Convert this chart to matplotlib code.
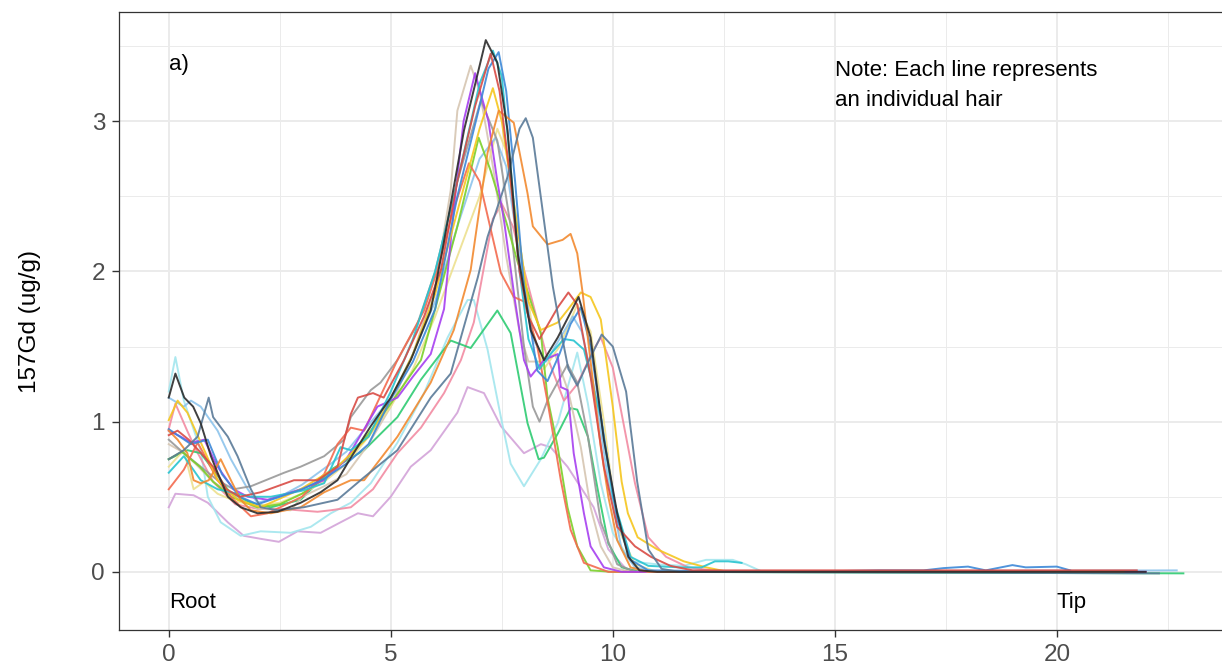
import matplotlib

matplotlib.use("Agg", force=True)

import matplotlib.pyplot as plt

# Gd-157 concentration along individual hairs (distance from root, ug/g).
# Each list holds (distance, concentration) points.
hair_lavender = [(0, 0.43), (0.15, 0.52), (0.56, 0.51), (0.88, 0.46), (1.33, 0.33), (1.69, 0.24),
                 (2.07, 0.22), (2.48, 0.20), (2.9, 0.27), (3.42, 0.26), (3.87, 0.33), (4.26, 0.39),
                 (4.6, 0.37), (5.0, 0.50), (5.45, 0.70), (5.9, 0.81), (6.5, 1.06), (6.73, 1.23),
                 (7.1, 1.19), (7.48, 0.97), (8.0, 0.79), (8.38, 0.85), (8.6, 0.83), (8.98, 0.70),
                 (9.57, 0.43), (9.9, 0.15), (10.3, 0.02), (10.8, 0.0), (19.0, 0.0)]
hair_lightcyan = [(0, 1.20), (0.15, 1.43), (0.34, 1.14), (0.72, 0.81), (0.88, 0.50), (1.17, 0.33),
                  (1.62, 0.24), (2.07, 0.27), (2.75, 0.26), (3.2, 0.30), (3.65, 0.39), (4.1, 0.46),
                  (4.55, 0.59), (5.15, 0.86), (5.75, 1.19), (6.28, 1.56), (6.73, 1.81), (6.87, 1.81),
                  (7.18, 1.48), (7.48, 1.03), (7.7, 0.72), (8.0, 0.57), (8.38, 0.75), (8.76, 0.99),
                  (9.2, 1.46), (9.44, 1.12), (9.73, 0.59), (10.0, 0.26), (10.4, 0.07), (11.0, 0.05),
                  (11.6, 0.04), (12.1, 0.08), (12.7, 0.08), (13.0, 0.05), (13.3, 0.01)]
hair_pink = [(0, 0.95), (0.15, 1.12), (0.4, 0.95), (0.6, 0.82), (1.0, 0.60), (1.5, 0.45), (2.0, 0.42),
             (2.5, 0.42), (3.35, 0.40), (3.65, 0.41), (4.1, 0.43), (4.6, 0.55), (5.15, 0.79),
             (5.68, 0.96), (6.2, 1.19), (6.58, 1.41), (6.87, 1.66), (7.1, 2.03), (7.3, 2.35),
             (7.5, 2.45), (7.75, 2.30), (8.1, 1.90), (8.5, 1.45), (8.9, 1.14), (9.2, 1.25),
             (9.57, 1.48), (9.73, 1.56), (10.0, 1.36), (10.5, 0.59), (10.8, 0.23), (11.2, 0.10),
             (11.7, 0.03), (12.5, 0.0), (21.0, 0.0)]
hair_green = [(0, 0.75), (0.42, 0.81), (0.72, 0.79), (0.95, 0.70), (1.4, 0.52), (1.85, 0.46),
              (2.3, 0.43), (2.97, 0.48), (3.65, 0.68), (4.4, 0.81), (5.15, 1.03), (5.68, 1.28),
              (6.35, 1.54), (6.8, 1.49), (7.4, 1.74), (7.7, 1.59), (8.08, 0.99), (8.33, 0.75),
              (8.45, 0.76), (8.76, 0.92), (9.05, 1.09), (9.2, 1.08), (9.44, 0.90), (9.66, 0.55),
              (9.9, 0.19), (10.2, 0.03), (10.6, 0.0), (22.85, -0.01)]
hair_tan = [(0, 0.85), (0.3, 0.80), (0.6, 0.72), (1.0, 0.60), (1.5, 0.50), (2.0, 0.42), (2.75, 0.41),
            (3.0, 0.50), (3.5, 0.57), (4.0, 0.65), (4.5, 0.85), (5.0, 1.10), (5.5, 1.45),
            (6.0, 1.90), (6.35, 2.54), (6.5, 3.07), (6.8, 3.37), (7.0, 3.20), (7.3, 2.70),
            (7.6, 2.10), (7.9, 1.60), (8.1, 1.40), (8.4, 1.40), (8.7, 1.45), (9.0, 1.20),
            (9.28, 0.83), (9.5, 0.43), (9.73, 0.17), (10.0, 0.03), (10.4, 0.0), (19.5, 0.0)]
hair_lightyellow = [(0, 0.70), (0.34, 0.81), (0.56, 0.55), (0.8, 0.60), (1.1, 0.52), (1.5, 0.47),
                    (2.0, 0.44), (2.5, 0.46), (3.0, 0.52), (3.5, 0.60), (4.0, 0.72), (4.5, 0.90),
                    (5.0, 1.10), (5.5, 1.35), (6.0, 1.70), (6.5, 2.10), (7.0, 2.50), (7.4, 2.95),
                    (7.6, 2.80), (7.9, 2.20), (8.2, 1.60), (8.45, 1.35), (8.8, 1.50), (9.2, 1.78),
                    (9.5, 1.60), (9.8, 1.00), (10.1, 0.30), (10.5, 0.05), (11.0, 0.0), (21.0, 0.0)]
hair_lightblue = [(0, 1.16), (0.34, 1.10), (0.5, 1.14), (0.72, 1.10), (1.1, 0.94), (1.4, 0.75),
                  (1.78, 0.55), (2.0, 0.46), (2.5, 0.50), (3.0, 0.58), (3.65, 0.72), (4.0, 0.80),
                  (4.5, 0.98), (5.0, 1.15), (5.5, 1.45), (6.0, 1.80), (6.5, 2.30), (7.0, 2.75),
                  (7.36, 2.89), (7.6, 2.70), (7.9, 2.10), (8.2, 1.55), (8.5, 1.40), (8.8, 1.55),
                  (9.1, 1.70), (9.3, 1.60), (9.6, 1.20), (9.9, 0.60), (10.2, 0.15), (10.5, 0.03),
                  (11.0, 0.0), (22.7, 0.01)]
hair_gray = [(0, 0.88), (0.34, 0.79), (0.72, 0.70), (1.1, 0.61), (1.46, 0.55), (1.85, 0.57),
             (2.6, 0.66), (2.97, 0.70), (3.5, 0.77), (3.95, 0.88), (4.1, 1.03), (4.55, 1.21),
             (4.77, 1.26), (5.15, 1.41), (5.6, 1.65), (6.0, 2.00), (6.5, 2.60), (7.03, 3.14),
             (7.4, 2.87), (7.7, 2.30), (8.0, 1.50), (8.2, 1.10), (8.35, 1.00), (8.53, 1.14),
             (8.98, 1.38), (9.2, 1.26), (9.44, 0.90), (9.73, 0.33), (10.1, 0.05), (10.5, 0.0),
             (20.5, 0.0)]
hair_lime = [(0, 0.75), (0.3, 0.80), (0.7, 0.70), (1.0, 0.60), (1.4, 0.50), (2.0, 0.43),
             (2.5, 0.45), (3.0, 0.52), (3.5, 0.62), (4.0, 0.75), (4.5, 0.92), (5.0, 1.12),
             (5.68, 1.41), (6.0, 1.75), (6.5, 2.30), (6.98, 2.89), (7.25, 2.67), (7.63, 2.30),
             (7.86, 2.06), (8.1, 1.85), (8.38, 1.59), (8.53, 1.16), (8.76, 0.83), (8.98, 0.43),
             (9.2, 0.17), (9.5, 0.01), (10.0, 0.0), (21.0, 0.0)]
hair_salmon = [(0, 0.55), (0.34, 0.68), (0.65, 0.86), (0.8, 0.78), (1.1, 0.61), (1.46, 0.48),
               (1.85, 0.37), (2.23, 0.39), (3.0, 0.50), (3.5, 0.65), (3.8, 0.85), (4.1, 0.96),
               (4.4, 0.94), (5.15, 1.41), (5.75, 1.74), (6.05, 2.01), (6.4, 2.40), (6.76, 2.72),
               (7.0, 2.60), (7.48, 1.99), (7.77, 1.83), (8.0, 1.80), (8.3, 1.50), (8.55, 1.10),
               (8.83, 0.61), (9.05, 0.28), (9.35, 0.06), (9.9, 0.0), (22.0, 0.0)]
hair_purple = [(0, 0.94), (0.27, 0.90), (0.5, 0.86), (0.8, 0.88), (1.1, 0.70), (1.46, 0.55),
               (1.78, 0.50), (2.23, 0.48), (2.97, 0.55), (3.5, 0.61), (4.0, 0.75), (4.7, 1.10),
               (5.15, 1.16), (5.5, 1.30), (5.9, 1.45), (6.2, 1.75), (6.45, 2.50), (6.64, 3.00),
               (6.9, 3.32), (7.2, 3.00), (7.4, 2.60), (7.55, 2.34), (7.8, 1.80), (8.0, 1.41),
               (8.15, 1.30), (8.45, 1.41), (8.76, 1.45), (8.83, 1.23), (8.98, 1.21), (9.12, 0.79),
               (9.35, 0.39), (9.5, 0.17), (9.8, 0.03), (10.2, 0.0), (22.0, 0.0)]
hair_yellow = [(0, 1.01), (0.2, 1.14), (0.42, 1.06), (0.8, 0.81), (1.1, 0.61), (1.55, 0.48),
               (2.07, 0.43), (2.97, 0.55), (3.8, 0.70), (4.5, 0.90), (5.0, 1.15), (5.5, 1.45),
               (6.0, 1.85), (6.5, 2.40), (7.0, 2.95), (7.3, 3.22), (7.5, 3.00), (7.7, 2.60),
               (7.9, 2.20), (8.1, 1.80), (8.38, 1.61), (8.76, 1.66), (9.0, 1.75), (9.28, 1.86),
               (9.5, 1.83), (9.73, 1.68), (10.0, 1.10), (10.2, 0.60), (10.34, 0.39), (10.56, 0.23),
               (11.0, 0.15), (11.6, 0.07), (12.1, 0.03), (12.6, 0.0), (21.5, 0.0)]
hair_cyan = [(0, 0.66), (0.34, 0.77), (0.72, 0.61), (1.1, 0.55), (1.85, 0.50), (2.3, 0.50),
             (3.0, 0.54), (3.5, 0.59), (3.87, 0.83), (4.1, 0.81), (4.5, 0.90), (5.0, 1.20),
             (5.5, 1.55), (6.0, 2.00), (6.5, 2.60), (7.0, 3.25), (7.3, 3.47), (7.5, 3.30),
             (7.7, 2.70), (7.9, 2.00), (8.1, 1.55), (8.35, 1.35), (8.6, 1.45), (8.9, 1.55),
             (9.12, 1.54), (9.35, 1.48), (9.73, 1.03), (10.0, 0.50), (10.4, 0.10), (10.8, 0.04),
             (11.5, 0.03), (12.0, 0.03), (12.3, 0.07), (12.6, 0.07), (12.9, 0.06)]
hair_blue = [(0, 0.95), (0.5, 0.85), (0.88, 0.88), (1.2, 0.65), (1.6, 0.50), (2.0, 0.45),
             (2.5, 0.50), (3.0, 0.55), (3.5, 0.62), (4.0, 0.72), (4.5, 0.85), (5.0, 1.15),
             (5.5, 1.40), (6.0, 1.75), (6.5, 2.50), (7.0, 3.10), (7.2, 3.35), (7.43, 3.46),
             (7.6, 3.20), (7.8, 2.60), (8.0, 1.90), (8.3, 1.34), (8.53, 1.27), (8.8, 1.45),
             (9.05, 1.65), (9.28, 1.76), (9.5, 1.50), (9.8, 0.90), (10.1, 0.35), (10.4, 0.08),
             (10.8, 0.01), (14.0, 0.0), (16.0, 0.01), (17.0, 0.01), (17.45, 0.025), (18.0, 0.035),
             (18.4, 0.01), (19.0, 0.045), (19.3, 0.03), (20.0, 0.035), (20.3, 0.01)]
hair_orange = [(0, 0.94), (0.2, 0.88), (0.42, 0.79), (0.56, 0.61), (0.72, 0.59), (0.9, 0.61),
               (1.17, 0.75), (1.4, 0.61), (1.62, 0.48), (1.85, 0.41), (2.3, 0.39), (2.97, 0.43),
               (3.5, 0.53), (4.1, 0.61), (4.4, 0.61), (5.15, 0.90), (5.9, 1.26), (6.42, 1.61),
               (6.8, 2.01), (6.96, 2.34), (7.18, 2.79), (7.43, 3.07), (7.77, 2.99), (8.08, 2.52),
               (8.2, 2.30), (8.53, 2.18), (8.87, 2.21), (9.05, 2.25), (9.2, 2.12), (9.32, 1.86),
               (9.5, 1.40), (9.73, 0.83), (9.9, 0.50), (10.1, 0.21), (10.4, 0.03), (10.8, 0.0),
               (21.5, 0.0)]
hair_red = [(0, 0.91), (0.2, 0.94), (0.45, 0.88), (0.7, 0.80), (1.0, 0.70), (1.3, 0.55),
            (1.6, 0.50), (2.07, 0.53), (2.82, 0.61), (3.35, 0.61), (3.8, 0.70), (4.1, 1.05),
            (4.26, 1.16), (4.6, 1.19), (4.84, 1.16), (5.3, 1.41), (5.75, 1.70), (6.13, 2.01),
            (6.5, 2.60), (6.9, 3.10), (7.25, 3.45), (7.45, 3.20), (7.7, 2.60), (7.9, 2.00),
            (8.1, 1.70), (8.35, 1.55), (8.76, 1.76), (9.0, 1.86), (9.2, 1.78), (9.5, 1.30),
            (9.8, 0.70), (10.1, 0.30), (10.5, 0.17), (10.86, 0.10), (11.3, 0.04), (11.8, 0.01),
            (21.8, 0.01)]
hair_slate = [(0, 0.75), (0.34, 0.81), (0.65, 0.90), (0.9, 1.16), (1.0, 1.03), (1.33, 0.90),
              (1.55, 0.77), (1.85, 0.55), (2.07, 0.43), (2.45, 0.41), (3.04, 0.43), (3.8, 0.48),
              (4.4, 0.63), (5.15, 0.81), (5.9, 1.16), (6.35, 1.32), (6.96, 1.96), (7.18, 2.23),
              (7.63, 2.63), (7.9, 2.95), (8.04, 3.02), (8.2, 2.89), (8.45, 2.34), (8.65, 1.90),
              (8.8, 1.65), (9.0, 1.35), (9.2, 1.24), (9.45, 1.40), (9.75, 1.58), (10.0, 1.50),
              (10.3, 1.20), (10.55, 0.60), (10.8, 0.15), (11.1, 0.02), (11.5, 0.0), (22.3, -0.01)]
hair_black = [(0, 1.16), (0.15, 1.32), (0.35, 1.16), (0.55, 1.10), (0.72, 0.99), (0.95, 0.77),
              (1.1, 0.66), (1.33, 0.50), (1.62, 0.43), (2.0, 0.39), (2.45, 0.40), (2.97, 0.46),
              (3.42, 0.53), (3.8, 0.61), (4.1, 0.76), (4.55, 0.97), (5.0, 1.16), (5.45, 1.41),
              (5.9, 1.74), (6.15, 2.12), (6.65, 2.94), (7.14, 3.54), (7.4, 3.39), (7.63, 2.94),
              (7.86, 2.12), (8.15, 1.61), (8.45, 1.41), (8.76, 1.56), (9.23, 1.83), (9.5, 1.56),
              (9.8, 0.88), (10.1, 0.39), (10.35, 0.10), (10.6, 0.01), (11.0, 0.0), (22.0, 0.0)]

hairs = [
    (hair_lavender, "#d3a3d9"),
    (hair_lightcyan, "#a3e6ee"),
    (hair_pink, "#f28ba2"),
    (hair_green, "#2ecb72"),
    (hair_tan, "#d6c6b2"),
    (hair_lightyellow, "#ede08f"),
    (hair_lightblue, "#8dc4ec"),
    (hair_gray, "#999999"),
    (hair_lime, "#7bd02b"),
    (hair_salmon, "#f36b4f"),
    (hair_purple, "#a63ff0"),
    (hair_yellow, "#f5c61e"),
    (hair_cyan, "#27c4d0"),
    (hair_blue, "#3c88d8"),
    (hair_orange, "#f28a30"),
    (hair_red, "#d94b45"),
    (hair_slate, "#5a7a98"),
    (hair_black, "#2b2b2b"),
]

plt.rcParams["font.family"] = ["Liberation Sans", "DejaVu Sans"]

fig = plt.figure(figsize=(12.22, 6.69), dpi=100)
ax = fig.add_axes([119 / 1222, 39 / 669, 1115 / 1222, 618 / 669])

for points, colour in hairs:
    xs = [p[0] for p in points]
    ys = [p[1] for p in points]
    ax.plot(xs, ys, color=colour, linewidth=1.4, alpha=0.9, solid_joinstyle="round")

ax.set_xticks([0, 5, 10, 15, 20])
ax.set_yticks([0, 1, 2, 3])
ax.set_xticks([2.5, 7.5, 12.5, 17.5, 22.5], minor=True)
ax.set_yticks([0.5, 1.5, 2.5, 3.5], minor=True)
ax.set_xlim(-1.12, 23.99)
ax.set_ylim(-0.387, 3.727)
ax.grid(True, which="major", color="#ebebeb", linewidth=1.4)
ax.grid(True, which="minor", color="#ebebeb", linewidth=0.7)
ax.set_axisbelow(True)
ax.tick_params(which="major", length=5, width=1.0, color="#333333",
               labelsize=17.5, labelcolor="#4d4d4d", pad=5)
ax.tick_params(which="minor", length=0)
for spine in ax.spines.values():
    spine.set_color("#333333")
    spine.set_linewidth(0.9)

fig.text(30 / 1222, 1 - 321 / 669, "157Gd (ug/g)", rotation=90, ha="center", va="center",
         fontsize=17.5, color="black")

ax.text(0, 3.375, "a)", ha="left", va="center", fontsize=16)
ax.text(0, -0.207, "Root", ha="left", va="center", fontsize=16)
ax.text(20, -0.207, "Tip", ha="left", va="center", fontsize=16)
ax.text(15, 3.34, "Note: Each line represents", ha="left", va="center", fontsize=16)
ax.text(15, 3.14, "an individual hair", ha="left", va="center", fontsize=16)

fig.savefig("out.png", dpi=100)
